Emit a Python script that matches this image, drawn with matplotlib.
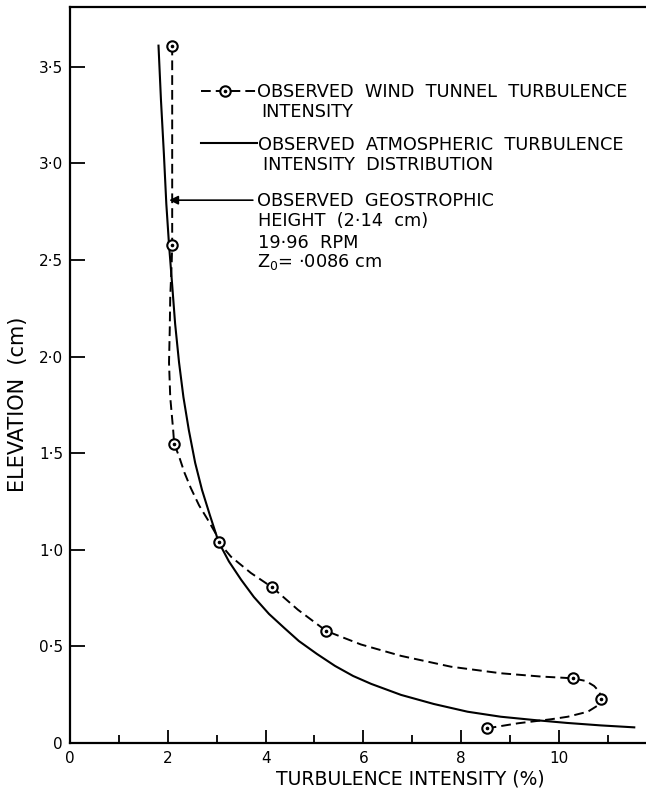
import matplotlib
matplotlib.use("Agg")
import matplotlib.pyplot as plt

# wind tunnel measurements (the circled points)
tunnel_x = [2.09, 2.09, 2.13, 3.04, 4.14, 5.24, 10.28, 10.86, 8.53]
tunnel_y = [3.61, 2.58, 1.55, 1.04, 0.805, 0.58, 0.335, 0.226, 0.076]

tcurve_x = [2.09, 2.09, 2.08, 2.05, 2.04, 2.025, 2.05, 2.11, 2.13, 2.235, 2.34, 2.47,
            2.64, 2.82, 2.99, 3.04, 3.29, 3.70, 4.14, 4.66, 5.24, 5.95, 6.77, 7.79,
            8.81, 9.63, 10.28, 10.55, 10.72, 10.83, 10.86, 10.78, 10.59, 10.18, 9.84,
            9.16, 8.53]
tcurve_y = [3.61, 2.58, 2.485, 2.31, 2.14, 1.97, 1.79, 1.62, 1.55, 1.48, 1.40, 1.32,
            1.23, 1.155, 1.08, 1.04, 0.965, 0.88, 0.805, 0.69, 0.58, 0.51, 0.451,
            0.395, 0.361, 0.344, 0.335, 0.321, 0.295, 0.264, 0.226, 0.192, 0.162,
            0.136, 0.123, 0.102, 0.076]

# atmospheric turbulence intensity distribution (solid)
atmos_x = [1.81, 1.86, 1.92, 1.97, 2.025, 2.09, 2.15, 2.23, 2.32, 2.43, 2.56, 2.70,
           2.86, 3.04, 3.25, 3.50, 3.76, 4.07, 4.38, 4.68, 5.05, 5.42, 5.79, 6.16,
           6.77, 7.44, 8.13, 8.81, 9.49, 10.16, 10.86, 11.54]
atmos_y = [3.61, 3.33, 3.05, 2.79, 2.58, 2.37, 2.17, 1.97, 1.79, 1.62, 1.45, 1.31,
           1.18, 1.04, 0.94, 0.845, 0.756, 0.668, 0.596, 0.528, 0.461, 0.399, 0.347,
           0.306, 0.249, 0.202, 0.162, 0.136, 0.119, 0.104, 0.091, 0.081]

x_major = [0, 2, 4, 6, 8, 10]
x_minor = [1, 3, 5, 7, 9, 11]
y_ticks = [0, 0.5, 1.0, 1.5, 2.0, 2.5, 3.0, 3.5]
y_labels = ["0", "0·5", "1·0", "1·5", "2·0", "2·5", "3·0", "3·5"]

plt.rcParams["font.family"] = "DejaVu Sans"

W, H = 646, 793
fig = plt.figure(figsize=(W / 100, H / 100), dpi=100)
ax = fig.add_axes([70 / W, 50 / H, 576 / W, 736 / H])
ax.set_xlim(0, 11.78)
ax.set_ylim(0, 3.81)

dash = (5, 2.6)
ax.plot(tcurve_x, tcurve_y, color="black", lw=1.4, dashes=dash)
ax.plot(atmos_x, atmos_y, color="black", lw=1.5)
ax.plot(tunnel_x, tunnel_y, "o", ms=7.5, mfc="white", mec="black", mew=1.5)
ax.plot(tunnel_x, tunnel_y, "o", ms=1.6, color="black")

# legend samples
ax.plot([2.68, 3.82], [3.373, 3.373], color="black", lw=1.4, dashes=dash)
ax.plot([3.17], [3.373], "o", ms=7.5, mfc="white", mec="black", mew=1.5)
ax.plot([3.17], [3.373], "o", ms=1.6, color="black")
ax.plot([2.68, 3.82], [3.105, 3.105], color="black", lw=1.5)
ax.annotate("", xy=(2.03, 2.81), xytext=(3.74, 2.81),
            arrowprops=dict(arrowstyle="-|>", color="black", lw=1.2,
                            mutation_scale=13, shrinkA=0, shrinkB=0))

notes = [
    ("OBSERVED  WIND  TUNNEL  TURBULENCE", 257, 92),
    ("INTENSITY", 261, 112),
    ("OBSERVED  ATMOSPHERIC  TURBULENCE", 258, 145),
    ("INTENSITY  DISTRIBUTION", 263, 165),
    ("OBSERVED  GEOSTROPHIC", 257, 201),
    ("HEIGHT  (2·14  cm)", 258, 221),
    ("19·96  RPM", 258, 243),
    ("Z$_0$= ·0086 cm", 257, 262),
]
for txt, px, py in notes:
    fig.text(px / W, 1 - py / H, txt, fontsize=12.8, ha="left", va="center")

ax.spines["right"].set_visible(False)
for s in ["left", "bottom", "top"]:
    ax.spines[s].set_linewidth(1.6)

ax.set_xticks(x_major)
ax.set_xticklabels([str(v) for v in x_major])
ax.set_xticks(x_minor, minor=True)
ax.set_yticks(y_ticks)
ax.set_yticklabels(y_labels)
ax.tick_params(axis="x", which="major", direction="in", length=9.5, width=1.3,
               pad=6, labelsize=11)
ax.tick_params(axis="x", which="minor", direction="in", length=6, width=1.3)
ax.tick_params(axis="y", direction="in", length=11, width=1.3, pad=5, labelsize=11)

fig.text(18 / W, 1 - 404 / H, "ELEVATION  (cm)", rotation=90, fontsize=15,
         ha="center", va="center")
fig.text(410 / W, 1 - 779 / H, "TURBULENCE INTENSITY (%)", fontsize=13.5,
         ha="center", va="center")

fig.savefig("out.png", dpi=100)
